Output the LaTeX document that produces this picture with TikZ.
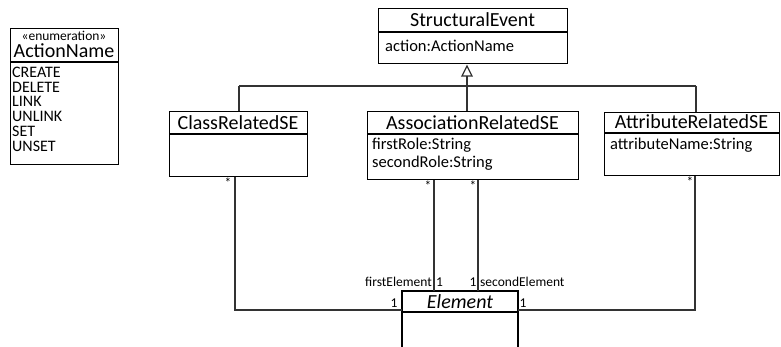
\documentclass[tikz,border=0pt]{standalone}
\usepackage{fontspec}
\setmainfont{Carlito}
\usetikzlibrary{arrows.meta}
\definecolor{conn}{HTML}{333333}
\tikzset{
  box/.style={draw=black, line width=1.2pt, fill=white, anchor=north west, inner sep=0pt},
  sep/.style={draw=black, line width=1.2pt},
  cname/.style={font=\fontsize{20}{24}\selectfont, inner sep=0pt},
  attr/.style={font=\fontsize{16.5}{18}\selectfont, inner sep=0pt, anchor=west, align=left},
  lbl/.style={font=\fontsize{13.5}{15}\selectfont, inner sep=0pt},
  assoc/.style={draw=conn, line width=1.3pt},
  gen/.style={draw=conn, line width=1.3pt},
}
\begin{document}
\begin{tikzpicture}[x=1pt,y=-1pt]
\useasboundingbox (0,0) rectangle (781,347);
% ActionName enumeration
\node[box, minimum width=108pt, minimum height=136pt] (an) at (10,28) {};
\draw[sep] (10,62) -- (118,62);
\node[lbl] (anst) at (64,36) {«enumeration»};
\node[cname] (anname) at (64,51) {ActionName};
\node[attr, anchor=north west, font=\fontsize{16}{14.7}\selectfont] (anlit) at (12,67) {CREATE\\DELETE\\LINK\\UNLINK\\SET\\UNSET};
% StructuralEvent
\node[box, minimum width=189pt, minimum height=55pt] (se) at (378,8) {};
\draw[sep] (378,32) -- (567,32);
\node[cname] (sename) at (472.5,20) {StructuralEvent};
\node[attr] (seattr) at (385,46) {action:ActionName};
% ClassRelatedSE
\node[box, minimum width=138pt, minimum height=65pt] (crse) at (169,111) {};
\draw[sep] (169,134) -- (307,134);
\node[cname] (crsename) at (238,122.5) {ClassRelatedSE};
% AssociationRelatedSE
\node[box, minimum width=211pt, minimum height=68pt] (arse) at (367,111) {};
\draw[sep] (367,134) -- (578,134);
\node[cname] (arsename) at (472.5,122.5) {AssociationRelatedSE};
\node[attr] (arseattr1) at (372,145) {firstRole:String};
\node[attr] (arseattr2) at (372,163) {secondRole:String};
% AttributeRelatedSE
\node[box, minimum width=175pt, minimum height=63pt] (atse) at (604,112) {};
\draw[sep] (604,133) -- (779,133);
\node[cname] (atsename) at (691.5,122) {AttributeRelatedSE};
\node[attr] (atseattr) at (610,145.5) {attributeName:String};
% Element (cut off at the bottom)
\coordinate (elnw) at (402,291);
\coordinate (elne) at (518,291);
\fill[white] (402,291) rectangle (518,347);
\draw[sep] (402,347) -- (elnw) -- (elne) -- (518,347);
\draw[sep] (402,312) -- (518,312);
\node[cname, font=\fontsize{20}{24}\selectfont\itshape] (elname) at (460,301.5) {Element};
% Generalization
\coordinate (gtip) at (467,66);
\coordinate (gbase) at (467,76);
\coordinate (gjoin) at (467,86);
\draw[gen] (gbase) -- (gjoin);
\draw[gen] (239,86) -- (696,86);
\draw[gen] (239,86) -- (239,0 |- crse.north);
\draw[gen] (gjoin) -- (467,0 |- arse.north);
\draw[gen] (696,86) -- (696,0 |- atse.north);
\draw[gen, fill=white, line join=miter] (gtip) -- (462,76) -- (472,76) -- cycle;
% Associations
\draw[assoc] (235,0 |- crse.south) -- (235,310) -- (402,310);
\draw[assoc] (434,0 |- arse.south) -- (434,0 |- elnw);
\draw[assoc] (478,0 |- arse.south) -- (478,0 |- elnw);
\draw[assoc] (695,0 |- atse.south) -- (695,310) -- (518,310);
% Multiplicities and roles
\node[lbl] (m1) at (228,183) {*};
\node[lbl] (m2) at (428,186) {*};
\node[lbl] (m3) at (473,186) {*};
\node[lbl] (m4) at (690,182) {*};
\node[lbl, anchor=east] (r1) at (432,282) {firstElement};
\node[lbl] (m5) at (439.5,282) {1};
\node[lbl] (m6) at (473,282) {1};
\node[lbl, anchor=west] (r2) at (480,282) {secondElement};
\node[lbl] (m7) at (394,303) {1};
\node[lbl] (m8) at (523,303) {1};
\end{tikzpicture}
\end{document}
